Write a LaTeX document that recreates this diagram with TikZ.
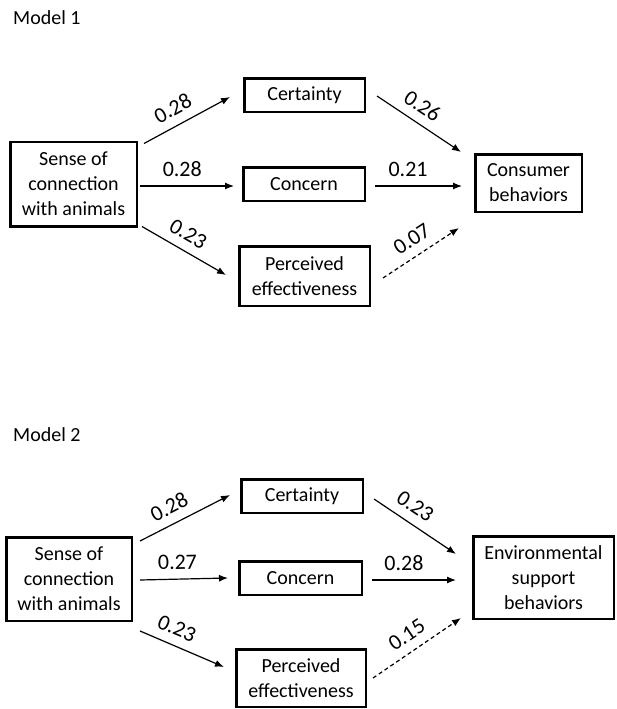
\documentclass[tikz,border=0pt]{standalone}
\usepackage{fontspec}
\setmainfont{Carlito}
\usetikzlibrary{calc, arrows.meta}

\begin{document}
\begin{tikzpicture}[x=1pt, y=-1pt, >={Latex[length=9pt, width=7pt]},
    box/.style={draw, rectangle, line width=2.5pt, align=center, inner sep=0pt, font=\fontsize{20}{25}\selectfont},
    coef/.style={sloped, above=9pt, font=\fontsize{22}{26}\selectfont, inner sep=0pt},
    title/.style={anchor=base west, inner sep=0pt, font=\fontsize{20}{24}\selectfont},
    link/.style={->, line width=1.2pt},
    weak/.style={link, dash pattern=on 4pt off 3pt}]
    \useasboundingbox (0,0) rectangle (617,709);

    % Model 1 nodes
    \node[title] (title1) at (13,25) {Model 1};
    \node[box, minimum width=126.5pt, minimum height=84.5pt] (sense1) at (73.5,184) {Sense of\\connection\\with animals};
    \node[box, minimum width=120.5pt, minimum height=33.5pt] (cert1) at (304.5,95) {Certainty};
    \node[box, minimum width=121.5pt, minimum height=33.5pt] (conc1) at (304,184) {Concern};
    \node[box, minimum width=130.5pt, minimum height=59.5pt] (perc1) at (304.5,276) {Perceived\\effectiveness};
    \node[box, minimum width=106.5pt, minimum height=57.5pt] (cons1) at (528.5,183) {Consumer\\behaviors};

    % Model 1 paths
    \draw[link] ($(sense1.north east)+(6,3)$) -- node[coef, pos=0.43] {0.28} ($(cert1.west)+(-13,2)$);
    \draw[link] ($(sense1.east)+(2,2)$) -- node[coef, pos=0.45] {0.28} ($(conc1.west)+(-8,2)$);
    \draw[link] ($(sense1.south east)+(4,-1)$) -- node[coef, pos=0.45] {0.23} ($(perc1.west)+(-12,-1)$);
    \draw[link] ($(cert1.east)+(11,1)$) -- node[coef, pos=0.43] {0.26} ($(cons1.north west)+(-13,-1)$);
    \draw[link] ($(conc1.east)+(9,2)$) -- node[coef, pos=0.38] {0.21} ($(cons1.west)+(-12,3)$);
    \draw[weak] ($(perc1.east)+(12,2)$) -- node[coef, pos=0.5] {0.07} ($(cons1.south west)+(-15,15)$);

    % Model 2 nodes
    \node[title] (title2) at (13,441) {Model 2};
    \node[box, minimum width=125.5pt, minimum height=83.5pt] (sense2) at (69,579) {Sense of\\connection\\with animals};
    \node[box, minimum width=121.5pt, minimum height=33.5pt] (cert2) at (302,496) {Certainty};
    \node[box, minimum width=122.5pt, minimum height=33.5pt] (conc2) at (300.5,578) {Concern};
    \node[box, minimum width=129.5pt, minimum height=57.5pt] (perc2) at (301,678) {Perceived\\effectiveness};
    \node[box, minimum width=140.5pt, minimum height=82.5pt] (env2) at (543.5,577.5) {Environmental\\support\\behaviors};

    % Model 2 paths
    \draw[link] ($(sense2.north east)+(7,5)$) -- node[coef, pos=0.41] {0.28} ($(cert2.west)+(-10,-1)$);
    \draw[link] ($(sense2.east)+(7,1)$) -- node[coef, pos=0.43] {0.27} ($(conc2.west)+(-10,0)$);
    \draw[link] ($(sense2.south east)+(7,9)$) -- node[coef, pos=0.36] {0.23} ($(perc2.west)+(-11,-11)$);
    \draw[link] ($(cert2.east)+(10,3)$) -- node[coef, pos=0.39] {0.23} ($(env2.north west)+(-16,19)$);
    \draw[link] ($(conc2.east)+(9,2)$) -- node[coef, pos=0.38] {0.28} ($(env2.west)+(-16,2.5)$);
    \draw[weak] ($(perc2.east)+(6,0)$) -- node[coef, pos=0.49] {0.15} ($(env2.south west)+(-11,-2)$);
\end{tikzpicture}
\end{document}
